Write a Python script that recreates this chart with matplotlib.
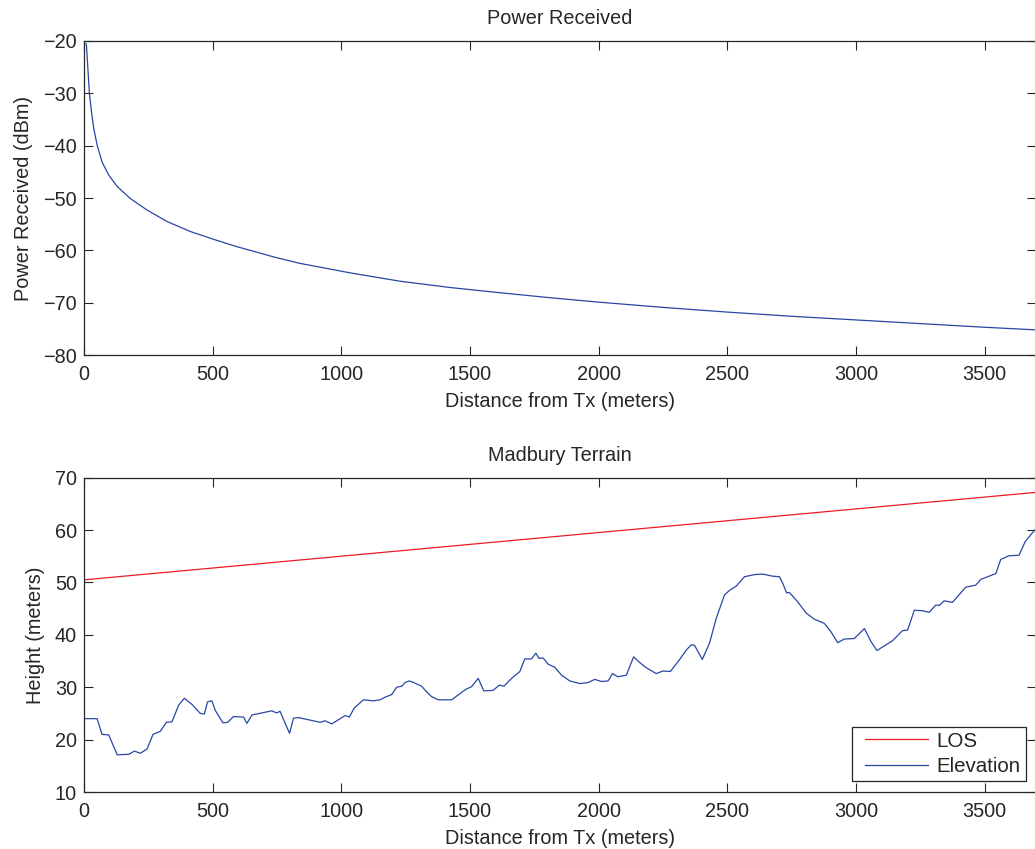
import matplotlib
matplotlib.use("Agg")
import matplotlib.pyplot as plt

plt.rcParams['font.family'] = ['Liberation Sans', 'DejaVu Sans']

# ---- data ----
power_d = [8, 10, 15, 21, 29, 38, 51, 70, 96, 129, 180, 245, 323, 413, 504, 594, 646,
           740, 840, 1034, 1228, 1422, 1616, 1800, 2000, 2250, 2500, 2750, 3000, 3250,
           3500, 3700]
power_dbm = [-20.5, -21.1, -25.2, -30.0, -33.5, -36.7, -39.9, -43.1, -45.6, -47.8, -50.1,
             -52.3, -54.5, -56.4, -57.9, -59.3, -60.0, -61.3, -62.5, -64.3, -65.9, -67.1,
             -68.1, -69.0, -69.9, -70.9, -71.8, -72.6, -73.3, -74.0, -74.7, -75.2]

los_d = [0, 3700]
los_h = [50.5, 67.2]

elev_d = [0, 6, 51, 70, 96, 129, 174, 196, 219, 245, 268, 297, 320, 342, 368, 390,
          420, 452, 468, 480, 497, 510, 540, 558, 581, 620, 633, 653, 730, 748, 762,
          782, 799, 814, 834, 918, 937, 963, 1015, 1031, 1050, 1086, 1125, 1151, 1170,
          1196, 1215, 1235, 1248, 1264, 1281, 1312, 1332, 1351, 1377, 1429, 1454, 1484,
          1506, 1532, 1554, 1590, 1614, 1632, 1662, 1694, 1713, 1739, 1756, 1769, 1784,
          1804, 1830, 1856, 1888, 1927, 1959, 1985, 2011, 2037, 2054, 2075, 2108, 2136,
          2160, 2186, 2224, 2250, 2279, 2315, 2341, 2360, 2373, 2403, 2431, 2457, 2489,
          2509, 2535, 2567, 2606, 2638, 2677, 2703, 2716, 2731, 2741, 2774, 2806, 2838,
          2877, 2903, 2929, 2955, 2994, 3033, 3059, 3082, 3104, 3143, 3181, 3201, 3227,
          3259, 3285, 3311, 3324, 3343, 3375, 3427, 3466, 3486, 3544, 3563, 3595, 3634,
          3658, 3700]
elev_h = [24.0, 24.0, 24.0, 21.0, 20.9, 17.1, 17.2, 17.8, 17.4, 18.2, 21.0, 21.6, 23.3,
          23.4, 26.6, 27.9, 26.7, 25.0, 24.9, 27.2, 27.4, 25.6, 23.2, 23.3, 24.4, 24.3,
          23.1, 24.7, 25.5, 25.1, 25.4, 23.1, 21.2, 24.1, 24.2, 23.3, 23.6, 23.0, 24.6,
          24.3, 26.0, 27.6, 27.4, 27.6, 28.1, 28.6, 30.0, 30.2, 30.9, 31.2, 30.9, 30.2,
          29.1, 28.2, 27.6, 27.6, 28.5, 29.6, 30.1, 31.7, 29.3, 29.4, 30.4, 30.2, 31.7,
          33.0, 35.4, 35.4, 36.5, 35.5, 35.6, 34.4, 33.8, 32.3, 31.2, 30.7, 30.9, 31.5,
          31.1, 31.2, 32.6, 32.0, 32.3, 35.8, 34.7, 33.7, 32.6, 33.1, 33.0, 35.3, 37.1,
          38.1, 38.0, 35.3, 38.4, 43.1, 47.6, 48.5, 49.3, 51.1, 51.5, 51.6, 51.2, 51.1,
          49.8, 48.0, 48.1, 46.3, 44.2, 43.0, 42.2, 40.6, 38.5, 39.2, 39.3, 41.2, 38.7,
          37.0, 37.7, 38.9, 40.8, 40.9, 44.7, 44.6, 44.3, 45.7, 45.6, 46.5, 46.2, 49.1,
          49.5, 50.6, 51.7, 54.4, 55.1, 55.2, 57.8, 60.3]

x_ticks = [0, 500, 1000, 1500, 2000, 2500, 3000, 3500]
power_ticks = [-80, -70, -60, -50, -40, -30, -20]
height_ticks = [10, 20, 30, 40, 50, 60, 70]

# ---- styling ----
BLUE = '#2946a6'
RED = '#ec1c24'
TXT = '#262626'
FS = 14.3

W, H = 1035, 849
fig = plt.figure(figsize=(W / 100, H / 100), dpi=100)
fig.patch.set_facecolor('white')

def style(ax):
    for s in ax.spines.values():
        s.set_linewidth(0.9)
        s.set_color(TXT)
    ax.tick_params(direction='in', length=6.5, width=0.8, colors=TXT,
                   labelsize=FS, top=True, right=True)
    ax.tick_params(axis='x', pad=7)
    ax.tick_params(axis='y', pad=5)
    for lab in ax.get_xticklabels() + ax.get_yticklabels():
        lab.set_color(TXT)

ax1 = fig.add_axes([84 / W, (H - 355) / H, 952 / W, 314 / H])
ax1.plot(power_d, power_dbm, color=BLUE, lw=0.9)
ax1.set_xlim(0, 3700)
ax1.set_ylim(-80, -20)
ax1.set_xticks(x_ticks)
ax1.set_yticks(power_ticks)
ax1.set_title('Power Received', fontsize=FS, color=TXT, pad=12)
ax1.set_xlabel('Distance from Tx (meters)', fontsize=FS, color=TXT, labelpad=6)
ax1.set_ylabel('Power Received (dBm)', fontsize=FS, color=TXT, labelpad=7.5)
style(ax1)

ax2 = fig.add_axes([84 / W, (H - 792) / H, 952 / W, 314.3 / H])
ax2.plot(los_d, los_h, color=RED, lw=0.9, label='LOS')
ax2.plot(elev_d, elev_h, color=BLUE, lw=0.9, label='Elevation')
ax2.set_xlim(0, 3700)
ax2.set_ylim(10, 70)
ax2.set_xticks(x_ticks)
ax2.set_yticks(height_ticks)
ax2.set_title('Madbury Terrain', fontsize=FS, color=TXT, pad=12)
ax2.set_xlabel('Distance from Tx (meters)', fontsize=FS, color=TXT, labelpad=6)
ax2.set_ylabel('Height (meters)', fontsize=FS, color=TXT, labelpad=7.5)
style(ax2)

LFS = 14.8
leg = ax2.legend(loc='lower right', bbox_to_anchor=(0.989, 0.035), fontsize=LFS,
                 frameon=True, fancybox=False, edgecolor=TXT, framealpha=1,
                 borderpad=0.25, labelspacing=0.3, handlelength=3.6,
                 handletextpad=0.25, borderaxespad=0)
leg.get_frame().set_linewidth(0.9)
for t in leg.get_texts():
    t.set_color(TXT)
# inset the legend sample lines like MATLAB does
for ln in leg.get_lines():
    xd = list(ln.get_xdata())
    yd = list(ln.get_ydata())
    ln.set_data([xd[0] + 5.8, xd[-1] - 2.2], [yd[0], yd[-1]])

fig.savefig('out.png', dpi=100, facecolor='white')
